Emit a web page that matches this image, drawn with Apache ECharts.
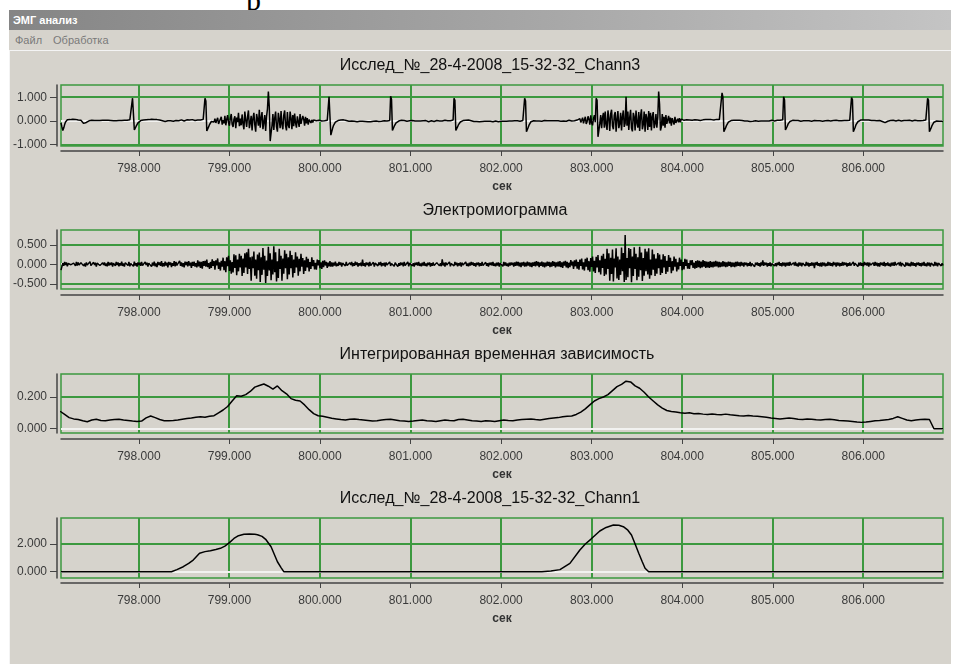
<!DOCTYPE html>
<html>
<head>
<meta charset="utf-8">
<title>ЭМГ анализ</title>
<script src="https://cdn.jsdelivr.net/npm/echarts@6/dist/echarts.min.js"></script>
<style>
  html, body { margin: 0; padding: 0; background: #fff; }
  body { width: 956px; height: 664px; position: relative; overflow: hidden; }
  #doc { position: absolute; left: 246px; top: -17px; font: 30px "Liberation Serif", serif; color: #000; }
  #win { position: absolute; left: 9px; top: 10px; width: 942px; height: 654px; background: #d6d3cc; }
  #caption { height: 16px; line-height: 14px; padding: 4px 0 0 4px; color: #fff;
             font: bold 11px "Liberation Sans", sans-serif;
             background: linear-gradient(to right, #858585, #a9a9a9 60%, #c4c4c4); }
  #menu { height: 16px; line-height: 14px; padding: 4px 0 0 6px; color: #7a7a7a;
          font: 11px "Liberation Sans", sans-serif; }
  #menu span { margin-right: 11px; }
  #client { position: absolute; left: 0; top: 40px; right: 0; bottom: 0;
            border-top: 1px solid #f4f4f4; border-left: 1px solid #f4f4f4; }
  #chart { position: absolute; left: 0; top: 0; width: 956px; height: 664px; }
</style>
</head>
<body>
<div id="doc">р</div>
<div id="win">
  <div id="caption">ЭМГ анализ</div>
  <div id="menu"><span>Файл</span><span>Обработка</span></div>
  <div id="client"></div>
</div>
<div id="chart"></div>
<script>
// ---- data ----
const xTicks = [798, 799, 800, 801, 802, 803, 804, 805, 806];

const titles = [
  'Исслед_№_28-4-2008_15-32-32_Chann3',
  'Электромиограмма',
  'Интегрированная временная зависимость',
  'Исслед_№_28-4-2008_15-32-32_Chann1'
];

const yTicks1 = [-1, 0, 1];
const yTicks2 = [-0.5, 0, 0.5];
const yTicks3 = [0, 0.2];
const yTicks4 = [0, 2];

// channel 3: every 0.01 s from 797.14 s, values in hundredths
const chann3 = [
  -8,-25,-40,-30,-15,-4,2,5,6,7, 6,5,7,8,6,5,7,6,5,4, 6,5,3,2,-3,-10,-15,-12,-6,-2, 0,1,2,1,3,2,1,2,0,1, 2,3,1,2,0,2,3,1,2,3,
  1,2,3,1,0,2,3,2,1,3, 2,1,2,4,2,1,3,2,1,2, 3,2,4,3,2,3,5,4,6,97, 90,-38,-32,-22,-14,-8,-3,0,2,3, 4,4,5,6,5,6,7,6,7,8,
  8,9,8,7,8,7,6,6,5,4, 3,2,1,0,-1,-2,-1,0,1,2, 3,1,0,2,-1,1,3,2,4,3, 1,2,4,5,3,1,0,2,4,5, 3,6,4,2,5,6,3,4,2,5,
  3,4,2,5,4,6,5,7,8,97, 85,-42,-35,-25,-15,-8,-2,3,5,-4, 10,-8,3,14,-12,-2,6,18,-15,4, -10,22,-18,7,25,-6,-20,12,30,-14, -25,8,20,-30,15,-5,35,-22,10,-18,
  28,-12,-35,40,5,-25,18,45,-30,-8, 22,-40,12,35,-15,-45,30,8,-20,48, -28,15,38,-35,-5,25,-42,20,52,125, 60,-85,-50,-20,30,-38,12,40,-25,-45, 35,8,-30,42,-15,-35,25,45,-20,-40,
  38,-18,-30,40,12,-35,25,-22,32,-8, -28,20,15,-25,30,-12,-18,22,8,-20, 18,-10,12,-15,6,10,-8,5,-6,4, 2,3,1,-1,2,3,1,2,0,2, 3,1,2,4,3,5,103,95,-60,-45,
  -30,-18,-10,-5,-1,1,2,3,2,4, 5,6,5,4,3,2,1,0,-1,-2, -1,0,-2,-3,-1,-2,0,-3,-4,-2, -1,0,-2,-1,-3,-4,-2,-3,-5,-3, -1,-2,-3,0,-2,-1,-3,-2,0,1,
  -1,-2,0,-3,-1,-2,0,1,-1,-2, 0,1,-1,2,105,92,-40,-32,-22,-14, -8,-4,-1,0,2,1,3,2,1,2, 0,1,-1,0,-2,1,-1,0,2,1, -1,0,1,-1,0,2,-1,0,1,-1,
  1,-2,0,2,-1,1,-3,0,2,1, -1,0,-2,1,0,2,1,-1,0,1, 2,0,-1,1,3,0,2,1,0,2, 1,3,2,4,97,88,-40,-34,-24,-15, -8,-4,-1,1,2,3,2,3,4,3,
  4,3,2,1,0,-1,-2,-3,-1,-2, 0,-1,-3,-2,-1,-2,-4,-3,-1,-2, 0,-1,-3,-2,-1,0,-2,-3,-1,-2, 0,-2,-1,-3,-2,0,-1,-3,-2,-1, 0,-2,-1,-3,-1,0,-1,-2,0,-1,
  -1,1,0,-2,1,0,2,-1,1,3, 2,4,97,85,-45,-38,-26,-16,-8,-3, 0,2,1,3,2,0,1,-1,0,2, 1,-1,0,1,2,0,-1,1,0,2, 1,-1,0,1,2,0,1,-1,0,1,
  0,2,-1,1,3,0,2,1,-1,2, 0,3,1,2,0,4,2,1,3,2, 4,2,5,10,-6,3,14,-10,5,18, -12,-3,20,8,-15,24,-8,-18,10,25, -5,97,88,-67,-40,-10,25,-30,15,35,
  -28,40,-15,-38,45,12,-42,30,48,-20, -35,25,38,-45,8,42,-30,-12,35,-40, 20,45,-25,-10,103,-20,40,-38,15,48, -30,-44,35,18,-40,45,-8,-28,38,-42, 22,50,-35,-15,40,-45,30,12,-38,42,
  -25,35,-40,20,38,-30,-12,30,-28,15, 125,70,-40,-25,30,-20,18,-28,25,-12, -18,22,-10,15,-20,12,8,-15,18,-8, -12,10,-6,12,-5,8,2,5,3,6, 4,5,3,6,4,7,5,3,6,4,
  5,3,6,4,7,5,2,6,3,5, 4,2,6,3,5,7,4,3,6,5, 2,4,6,3,7,5,4,6,3,8, 120,100,-45,-38,-28,-18,-10,-5,-1,1, 2,3,2,3,2,4,3,2,4,3,
  3,5,2,4,1,0,-2,-1,0,-3, -1,-2,0,1,-1,2,0,1,-2,0, -1,-3,-2,0,1,-1,0,2,1,0, 1,3,0,2,1,3,2,1,0,2, 1,3,2,1,3,2,4,5,103,90,
  -38,-32,-22,-12,-6,-2,1,2,3,4, 3,2,3,1,2,0,1,-1,0,2, 1,0,-1,1,0,2,1,0,1,-1, 0,1,2,0,-1,1,0,2,1,0, 1,-1,0,2,1,0,1,2,0,1,
  0,1,-1,2,0,1,3,0,2,1, 0,2,1,-1,0,2,1,3,2,1, 2,3,4,100,90,-45,-38,-26,-15,-8, -3,0,2,4,3,5,4,3,5,4, 3,2,4,3,1,2,3,1,2,3,
  2,1,3,0,2,1,0,-2,-4,-6, -7,-5,-3,-1,0,1,2,0,1,3, 1,2,0,1,2,3,1,2,0,1, 3,2,0,1,2,0,1,3,2,1, 0,2,1,3,2,0,1,2,3,1,
  1,3,2,1,3,4,5,97,88,-45, -38,-28,-18,-10,-5,-3,-2,0,-1,-2, -1,0,-2,-1,-2
];

// EMG: every 0.01 s from 797.14 s, values in hundredths
const emg = [
  -15,-6,3,-4,6,-2,5,-5,2,-3, 7,-1,4,-6,3,1,-4,6,-3,5, -2,-5,4,-1,6,-4,2,-6,5,-2, 3,-5,7,-3,1,-4,5,-2,4,-6, 3,-1,6,-3,2,-5,4,-2,5,-4,
  2,-5,6,-3,4,-2,5,-6,3,-1, -4,6,-2,5,-5,3,-3,7,-4,2, -6,4,-1,5,-3,6,-5,2,-2,4, -5,7,-3,3,-6,5,-2,4,-4,6, -3,2,-5,6,-2,4,-6,3,-1,5,
  -6,4,-3,7,-5,2,-7,6,-2,5, -4,8,-6,3,-5,7,-3,4,-8,6, -2,5,-7,3,-4,8,-5,6,-3,2, -7,9,-4,5,-6,3,-8,7,-2,6, -5,8,-3,4,-9,6,-4,7,-6,3,
  -8,10,-5,7,-9,6,-11,8,-4,9, -6,12,-7,3,-12,6,-9,13,-4,8, -14,10,-3,15,-12,5,-16,9,-6,17, -15,8,-20,18,-5,22,-17,10,-24,6, -21,26,-9,23,-28,12,-18,27,-8,22,
  -30,15,-22,28,-8,31,-25,40,-12,18, -42,20,-10,33,-29,12,-37,25,-15,30, -45,18,-27,42,-14,22,-48,10,-30,45, -16,28,-41,12,-26,46,-20,31,-44,8, -35,40,-12,22,-42,15,-24,36,-10,27,
  -38,18,-26,35,-10,24,-34,12,-22,31, -8,20,-29,14,-18,27,-6,16,-25,10, -17,19,-8,14,-18,6,-12,18,-5,11, -13,4,-14,12,-3,11,-10,5,-12,9, -7,10,-3,6,-9,4,-5,8,-6,5,
  -6,4,-3,7,-5,2,-4,6,-2,5, -6,3,-1,5,-4,6,-3,2,-5,4, -2,6,-5,3,-4,7,-2,5,-6,3, -3,4,-5,12,-4,3,-6,5,-2,4, -5,6,-3,2,-4,5,-6,3,-1,4,
  -4,5,-2,6,-5,3,-3,4,-6,5, -2,3,-5,6,-4,2,-3,7,-5,4, -1,5,-6,3,-4,5,-2,4,-5,6, -3,2,-4,6,-5,3,-2,5,-4,3, -6,4,-2,5,-3,6,-4,2,-5,4,
  -3,6,-4,2,-5,4,-2,5,-6,3, -4,5,-3,2,-6,4,-1,6,-4,3, -5,13,-3,4,-6,5,-2,3,-4,6, -5,2,-3,5,-4,6,-2,4,-5,3, -3,5,-6,4,-2,3,-5,6,-4,2,
  -5,4,-3,6,-2,5,-4,3,-6,4, -2,5,-5,3,-4,6,-3,2,-5,5, -4,3,-6,4,-2,5,-3,6,-4,2, -5,4,-3,5,-6,3,-2,4,-5,6, -3,5,-4,2,-6,4,-3,5,-2,4,
  -6,5,-4,7,-3,6,-5,4,-7,5, -3,6,-6,4,-5,7,-3,5,-6,4, -7,5,-4,6,-5,8,-3,6,-7,5, -4,7,-6,5,-8,4,-5,7,-4,6, -7,5,-6,8,-4,6,-8,5,-5,7,
  -6,8,-7,5,-9,7,-3,9,-8,6, -10,4,-7,11,-3,7,-12,10,-5,12, -11,6,-14,12,-4,15,-13,5,-16,14, -6,17,-15,8,-19,16,-7,20,-18,9, -22,19,-8,24,-20,10,-26,22,-9,27,
  -30,14,-26,40,-12,28,-42,17,-25,38, -44,15,-8,41,-36,20,-40,12,-27,43, -18,29,-45,75,-40,16,-33,42,-10,39, -46,20,-30,44,-12,27,-41,18,-32,45, -15,30,-43,16,-29,40,-18,33,-26,41,
  -37,12,-28,38,-14,26,-30,15,-24,29, -10,25,-27,12,-22,26,-8,21,-25,9, -19,24,-7,17,-23,8,-16,20,-6,14, -18,5,-13,17,-4,12,-15,6,-13,14, -4,12,-11,3,-12,10,-2,11,-9,4,
  -11,8,-9,10,-7,9,-10,7,-8,11, -6,8,-9,7,-8,6,-9,8,-7,6, -8,7,-6,9,-5,7,-8,6,-7,5, -6,8,-5,6,-7,5,-6,7,-4,6, -7,5,-6,4,-7,6,-5,7,-4,5,
  -5,6,-3,4,-6,5,-2,4,-5,3, -4,6,-5,2,-3,5,-6,4,-2,5, -4,3,-6,5,-3,10,-4,5,-2,4, -6,3,-4,5,-5,2,-3,6,-4,3, -5,4,-2,6,-4,3,-5,5,-3,4,
  -6,4,-3,5,-4,6,-2,3,-5,4, -3,6,-4,2,-6,5,-3,4,-5,3, -2,5,-4,6,-3,4,-6,3,-4,5, -3,4,-10,5,-2,6,-4,3,-5,4, -6,5,-3,4,-5,2,-4,6,-3,5,
  -4,3,-5,6,-2,4,-6,5,-3,4, -5,3,-4,6,-3,5,-2,4,-6,3, -4,5,-3,2,-5,6,-4,3,-2,5, -6,4,-3,5,-4,3,-5,6,-2,4, -3,5,-6,4,-2,3,-5,4,-4,6,
  -3,4,-5,3,-6,5,-2,4,-4,6, -5,3,-3,5,-4,2,-6,4,-3,5, -4,6,-2,3,-5,4,-3,6,-5,3, -2,4,-6,5,-3,4,-4,2,-5,6, -3,5,-4,3,-6,4,-2,5,-4,3,
  -5,4,-3,6,-4,2,-5,5,-3,4, -6,3,-2,5,-4,6,-3,4,-5,3, -2,5,-4,3,-3
];

// integrated envelope: every 0.05 s from 797.13 s, values in thousandths
const integ = [
  110,90,70,62,58,50,44,55,60,52,50,55,58,60,55,52,48,45,48,68,
  80,70,58,50,50,52,55,60,65,68,72,75,72,78,82,100,118,140,175,208,
  205,215,235,262,272,282,268,250,270,240,220,190,180,175,150,120,95,82,78,72,
  66,62,58,55,60,62,58,55,52,48,50,55,58,60,55,50,48,45,48,52,
  55,50,48,45,50,55,52,50,58,60,55,50,48,45,50,48,45,50,55,52,
  50,55,58,60,62,58,55,60,65,68,70,75,78,80,90,105,125,150,175,190,
  200,215,240,265,280,300,295,270,255,230,200,175,150,130,115,108,105,100,98,100,
  95,96,92,90,93,90,88,92,88,85,82,80,84,80,78,75,72,68,65,62,
  65,68,64,60,58,62,60,56,55,58,60,56,52,50,48,45,42,40,42,46,
  50,52,55,58,65,75,65,55,50,55,58,60,58,0,0,0
];

// channel 1: breakpoints (s) and values in hundredths
const chann1Time = [
  797.14, 798.36, 798.42, 798.49, 798.55, 798.60, 798.67, 798.73, 798.79, 798.85,
  798.90, 798.95, 799.00, 799.05, 799.10, 799.16, 799.22, 799.28, 799.31, 799.36,
  799.40, 799.46, 799.53, 799.57, 799.60, 802.45, 802.55, 802.65, 802.76, 802.87,
  802.93, 802.99, 803.09, 803.16, 803.24, 803.30, 803.35, 803.40, 803.44, 803.48,
  803.52, 803.56, 803.59, 803.63, 806.88
];
const chann1 = [
  0, 0, 15, 36, 60, 84, 133, 145, 152, 160,
  169, 185, 210, 240, 260, 270, 272, 270, 267, 255,
  234, 180, 72, 30, 0, 0, 5, 15, 60, 157,
  200, 234, 294, 320, 337, 335, 325, 300, 265, 200,
  133, 70, 25, 0, 0
];

// ---- chart ----
const sampled = (t0, dt, vals, scale) => vals.map((v, i) => [t0 + i * dt, v / scale]);

const panels = [
  { title: titles[0], ticks: yTicks1, min: -1.06, max: 1.53, data: sampled(797.14, 0.01, chann3, 100) },
  { title: titles[1], ticks: yTicks2, min: -0.633, max: 0.88, data: sampled(797.14, 0.01, emg, 100) },
  { title: titles[2], ticks: yTicks3, min: -0.027, max: 0.345, data: sampled(797.13, 0.05, integ, 1000) },
  { title: titles[3], ticks: yTicks4, min: -0.455, max: 3.88, data: chann1Time.map((t, i) => [t, chann1[i] / 100]) }
];

const gridTop = [85, 230, 374, 518];
const gridHeight = [61, 59, 59, 60];
const titleCenter = [490, 495, 497, 490];
const green = '#3c993f';
const zeroColor = '#f2f2f0';
const axisColor = '#444';
const fontFamily = '"Liberation Sans", Arial, sans-serif';

// 2px grid lines snapped to whole pixels, placed through the axis scales
function gridLineV(params, api) {
  const cs = params.coordSys;
  const col = Math.round(api.coord([api.value(0), api.value(1)])[0]) - 1;
  return { type: 'rect', shape: { x: col, y: cs.y, width: 2, height: cs.height },
           style: { fill: green, stroke: null } };
}
function gridLineH(params, api) {
  const cs = params.coordSys;
  const v = api.value(1);
  const row = Math.round(api.coord([api.value(0), v])[1]) - 1;
  return { type: 'rect', shape: { x: cs.x, y: row, width: cs.width, height: 2 },
           style: { fill: v === 0 ? zeroColor : green, stroke: null } };
}

const chart = echarts.init(document.getElementById('chart'));

const series = [];
panels.forEach((p, k) => {
  series.push({
    type: 'custom', xAxisIndex: k, yAxisIndex: k, silent: true, z: 1, clip: false,
    renderItem: gridLineV, data: xTicks.map(v => [v, 0])
  });
  series.push({
    type: 'custom', xAxisIndex: k, yAxisIndex: k, silent: true, z: 2, clip: false,
    renderItem: gridLineH, data: p.ticks.map(v => [xTicks[0], v])
  });
  series.push({
    type: 'line', xAxisIndex: k, yAxisIndex: k,
    data: p.data, symbol: 'none', showSymbol: false, silent: true, z: 10,
    lineStyle: { color: '#000', width: 1.5 }
  });
});

const option = {
  backgroundColor: 'transparent',
  animation: false,
  title: panels.map((p, k) => ({
    text: p.title,
    left: titleCenter[k],
    top: gridTop[k] - 27,
    textAlign: 'center',
    padding: 0,
    textStyle: { fontFamily, fontSize: 16, fontWeight: 'normal', color: '#111' }
  })),
  grid: panels.map((p, k) => ({
    left: 61, right: 13, top: gridTop[k], height: gridHeight[k],
    show: true, borderColor: green, borderWidth: 1.5, backgroundColor: 'transparent'
  })),
  xAxis: panels.map((p, k) => ({
    type: 'value', gridIndex: k, min: 797.14, max: 806.88,
    offset: k === 0 || k === 3 ? 5 : 6,
    name: 'сек', nameLocation: 'middle', nameGap: 30,
    nameTextStyle: { fontFamily, fontSize: 12, fontWeight: 'bold', color: '#333' },
    axisLine: { show: true, onZero: false, lineStyle: { color: axisColor, width: 1.5 } },
    axisTick: { show: true, length: 5, customValues: xTicks, lineStyle: { color: axisColor, width: 1 } },
    axisLabel: { customValues: xTicks, margin: 12, fontFamily, fontSize: 12, color: '#3a3a3a',
                 formatter: v => v.toFixed(3) },
    splitLine: { show: false },
    minorSplitLine: { show: false }
  })),
  yAxis: panels.map((p, k) => ({
    type: 'value', gridIndex: k, min: p.min, max: p.max, offset: 4,
    axisLine: { show: true, onZero: false, lineStyle: { color: axisColor, width: 1.5 } },
    axisTick: { show: true, length: 7, customValues: p.ticks, lineStyle: { color: axisColor, width: 1 } },
    axisLabel: { customValues: p.ticks, margin: 10, fontFamily, fontSize: 12, color: '#3a3a3a',
                 formatter: v => v.toFixed(3) },
    splitLine: { show: false },
    minorSplitLine: { show: false }
  })),
  series
};

chart.setOption(option);
</script>
</body>
</html>
